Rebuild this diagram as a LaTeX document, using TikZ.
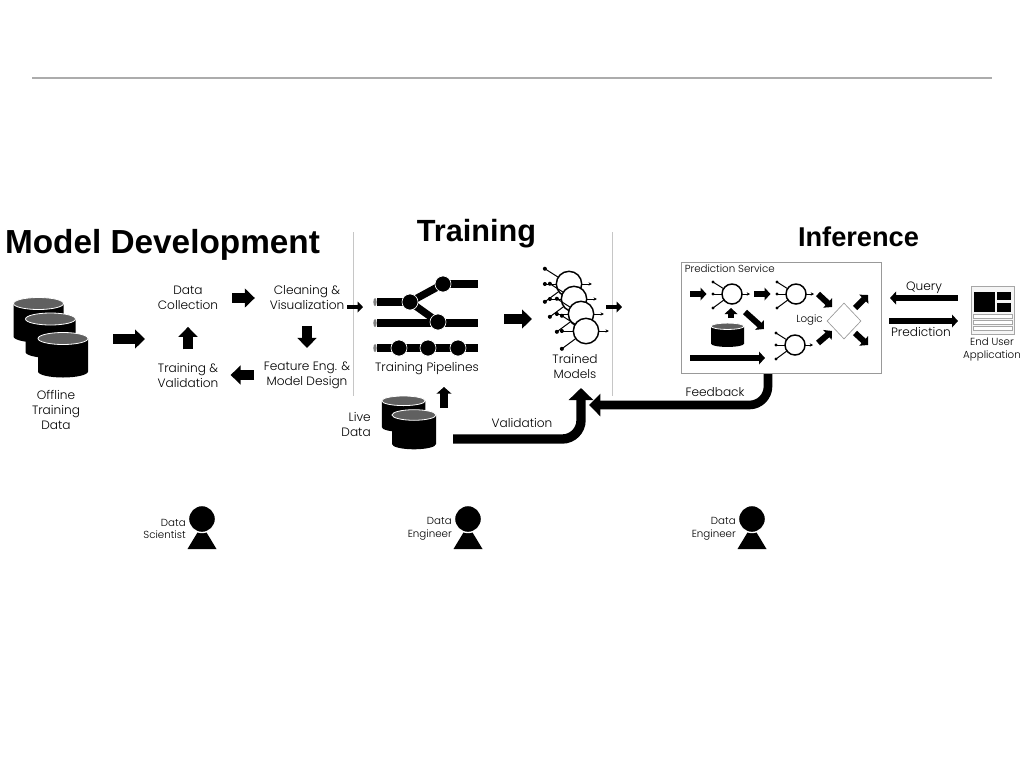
\documentclass[tikz,border=0pt]{standalone}
\usepackage{fontspec}
\usepackage{xcolor}
\setmainfont{Poppins Light}
\newfontfamily\titlefont{Liberation Sans}
\usetikzlibrary{shapes.geometric, arrows.meta, positioning, backgrounds}

\begin{document}
\begin{tikzpicture}[
    x=0.75pt, y=-0.75pt,
    txt/.style={inner sep=0pt, align=center, font=\fontsize{9.1}{11.25}\selectfont},
    smalltxt/.style={inner sep=0pt, align=right, font=\fontsize{7.7}{9.4}\selectfont},
    heading/.style={inner sep=0pt, font=\titlefont\bfseries},
    fatarrow/.style={-{Triangle[length=7.5pt,width=14pt]}, line width=7.5pt},
    midarrow/.style={-{Triangle[length=4.5pt,width=9.5pt]}, line width=4.5pt},
    tinyarrow/.style={-{Triangle[length=4pt,width=8pt]}, line width=3.5pt},
    bigarrow/.style={-{Triangle[length=9pt,width=18pt]}, line width=7pt, rounded corners=14pt},
    divider/.style={gray!45, line width=0.5pt},
    pipeline/.style={line width=5.5pt},
    pipejoint/.style={circle, fill=black, draw=white, line width=0.5pt, minimum size=12pt, inner sep=0pt},
    pipestart/.style={ellipse, fill=gray, minimum width=2.5pt, minimum height=6pt, inner sep=0pt},
    appblock/.style={fill=black},
    approw/.style={draw=gray!70, fill=white, line width=0.5pt},
    pics/dbicon/.style={code={
        \fill[black] (-25,-16.5) -- (-25,16.5) arc[start angle=180, end angle=0, x radius=25, y radius=6]
            -- (25,-16.5) -- cycle;
        \draw[white, fill=gray!75!black, line width=0.6pt] (0,-16.5) ellipse[x radius=25, y radius=6];
    }},
    pics/neuron/.style={code={
        \coordinate (-c) at (0,0);
        \foreach \dy in {-12,0,14} {
            \draw[line width=0.75pt] (0,0) -- (-19,\dy);
            \fill (-19,\dy) circle[radius=1.6];
        }
        \draw[-{Stealth[length=2.5pt,width=2.5pt]}, line width=0.75pt] (0,0) -- (18,0);
        \draw[fill=white, line width=1.1pt] (0,0) circle[radius=10];
    }},
    pics/person/.style={code={
        \fill (0,6) -- (14.5,30) -- (-14.5,30) -- cycle;
        \draw[white, fill=black, line width=1pt] (0,0) circle[radius=13.5];
    }}
]
\useasboundingbox (0,0) rectangle (1024,768);

% Top rule
\coordinate (ruleL) at (32,78);
\coordinate (ruleR) at (992,78);
\draw[gray!65, line width=1.5pt] (ruleL) -- (ruleR);

% Headings
\node[heading, font=\titlefont\bfseries\fontsize{25}{30}\selectfont] (devtitle) at (162.5,245) {Model Development};
\node[heading, font=\titlefont\bfseries\fontsize{23}{28}\selectfont] (traintitle) at (476.5,234) {Training};
\node[heading, font=\titlefont\bfseries\fontsize{20.4}{25}\selectfont] (inftitle) at (858.5,237) {Inference};

% Dividers
\coordinate (div1a) at (353,232);
\coordinate (div1b) at (353,396);
\coordinate (div2a) at (612,232);
\coordinate (div2b) at (612,396);
\draw[divider] (div1a) -- (div1b);
\draw[divider] (div2a) -- (div2b);

% Offline data
\pic at (38.5,320) {dbicon};
\pic at (50.5,335.5) {dbicon};
\pic at (63,355) {dbicon};
\node[txt] (offline) at (56,409.5) {Offline\\Training\\Data};

% Development cycle
\node[txt] (collect) at (188,297.5) {Data\\Collection};
\node[txt] (clean) at (307,297.5) {Cleaning \&\\Visualization};
\node[txt] (feature) at (307,375) {Feature Eng. \&\\Model Design};
\node[txt] (validate) at (188,375) {Training \&\\Validation};

\coordinate (offlineOut) at (113,339);
\coordinate (offlineEnd) at (145,339);
\draw[fatarrow] (offlineOut) -- (offlineEnd);
\draw[fatarrow, shorten <=10.5pt, shorten >=11pt] (collect.east |- 0,298) -- (clean.west |- 0,298);
\draw[fatarrow, shorten <=12pt, shorten >=10pt] (clean) -- (feature);
\draw[fatarrow, shorten <=7pt, shorten >=9pt] (feature.west) -- (validate.east);
\draw[fatarrow, shorten <=10pt, shorten >=13pt] (validate) -- (collect);

\coordinate (toTrainA) at (347,307);
\coordinate (toTrainB) at (363,307);
\draw[tinyarrow] (toTrainA) -- (toTrainB);

% Training pipelines
\node[pipestart] (s1) at (375,302) {};
\node[pipestart] (s2) at (375,323) {};
\node[pipestart] (s3) at (375,348) {};
\node[pipejoint] (p1) at (410,302) {};
\node[pipejoint] (p2) at (443,284) {};
\node[pipejoint] (p3) at (438,322) {};
\node[pipejoint] (p4) at (399,348) {};
\node[pipejoint] (p5) at (428,348) {};
\node[pipejoint] (p6) at (458,348) {};
\coordinate (e1) at (478,284);
\coordinate (e2) at (478,323);
\coordinate (e3) at (478,348);
\begin{scope}[on background layer]
\foreach \from/\to in {p1/p2, p1/p3}
    \draw[pipeline, shorten <=-2pt, shorten >=-2pt] (\from) -- (\to);
\draw[pipeline, shorten >=-2pt] (s1) -- (p1);
\draw[pipeline, shorten <=-2pt] (p2) -- (e1);
\draw[pipeline] (s2) -- (e2);
\draw[pipeline] (s3) -- (e3);
\end{scope}
\node[txt] (pipelines) at (427,368.5) {Training Pipelines};

% Trained models
\pic[scale=1.27] (m1) at (569,284) {neuron};
\pic[scale=1.27] (m2) at (574,299) {neuron};
\pic[scale=1.27] (m3) at (581,314) {neuron};
\pic[scale=1.27] (m4) at (586,331) {neuron};
\node[txt] (models) at (575,366.5) {Trained\\Models};

\coordinate (pipeOut) at (504,319);
\coordinate (modelsIn) at (532,319);
\draw[fatarrow] (pipeOut) -- (modelsIn);
\coordinate (modelsOut) at (606,307);
\coordinate (inferIn) at (622,307);
\draw[tinyarrow] (modelsOut) -- (inferIn);

% Live data
\pic[xscale=0.87, yscale=0.8] at (403.5,414) {dbicon};
\pic[xscale=0.88, yscale=0.88] at (414,429.5) {dbicon};
\node[txt, align=right, anchor=east] (live) at (371,424.5) {Live\\Data};
\coordinate (liveUpA) at (444,408);
\coordinate (liveUpB) at (444,387);
\draw[midarrow, line width=5.5pt, -{Triangle[length=5pt,width=11pt]}] (liveUpA) -- (liveUpB);

\coordinate (valStart) at (453,439);
\coordinate (valEnd) at (581,388);
\draw[bigarrow] (valStart) -| (valEnd);
\node[txt] (validation) at (522,423) {Validation};

% Prediction service
\node[draw=gray!80, line width=0.6pt, minimum width=150pt, minimum height=83.25pt, inner sep=0pt] (service) at (781,317.5) {};
\node[txt, anchor=west, font=\fontsize{7.7}{9.4}\selectfont] (servicelabel) at (684.5,269) {Prediction Service};
\pic (n1) at (732,294) {neuron};
\pic (n2) at (796,294) {neuron};
\pic (n3) at (795,345) {neuron};
\pic[xscale=0.66, yscale=0.53] at (727.5,335) {dbicon};
\node[diamond, draw=gray!80, line width=0.5pt, minimum width=25.5pt, minimum height=27pt, inner sep=0pt] (logic) at (844,321) {};
\node[smalltxt, anchor=east] (logiclabel) at (823,320) {Logic};

\coordinate (a1) at (690,294);
\coordinate (a2) at (706.5,294);
\coordinate (b1) at (754,294);
\coordinate (b2) at (770.5,294);
\coordinate (c1) at (818,294);
\coordinate (c2) at (832,307);
\coordinate (d1) at (745,312);
\coordinate (d2) at (764,329);
\coordinate (f1) at (731,318);
\coordinate (f2) at (731,308);
\coordinate (g1) at (690,358);
\coordinate (g2) at (765,358);
\coordinate (h1) at (818,343);
\coordinate (h2) at (832,331);
\coordinate (i1) at (855,308);
\coordinate (i2) at (868,295);
\coordinate (j1) at (855,333);
\coordinate (j2) at (868,345);
\foreach \from/\to in {a1/a2, b1/b2, c1/c2, d1/d2, f1/f2, g1/g2, h1/h2, i1/i2, j1/j2}
    \draw[midarrow] (\from) -- (\to);

% Feedback
\coordinate (fbStart) at (768,374);
\coordinate (fbEnd) at (589,405);
\draw[bigarrow, line width=6.5pt, -{Triangle[length=8.5pt,width=16.5pt]}] (fbStart) |- (fbEnd);
\node[txt] (feedback) at (715,392) {Feedback};

% End user application
\node[draw=gray!70, fill=gray!8, line width=0.6pt, minimum width=32.25pt, minimum height=36pt, inner sep=0pt] (app) at (992.5,310) {};
\fill[appblock] (974,292) rectangle (995,312);
\fill[appblock] (997,292) rectangle (1011,300);
\fill[appblock] (997,303) rectangle (1011,312);
\draw[approw] (973,314) rectangle (1012,318);
\draw[approw] (973,320) rectangle (1012,324);
\draw[approw] (973,326) rectangle (1012,330);
\node[smalltxt, align=center] (applabel) at (992,349.5) {End User\\Application};

\coordinate (qEnd) at (890,298);
\coordinate (pStart) at (889,321);
\draw[midarrow] (app.west |- qEnd) ++(-13,0) -- (qEnd);
\draw[midarrow] (pStart) -- ++(69,0);
\node[txt] (query) at (924,288) {Query};
\node[txt] (prediction) at (921,332) {Prediction};

% People
\pic at (202,519) {person};
\pic at (468,519) {person};
\pic at (752,519) {person};
\node[smalltxt, anchor=east] (scientist) at (186,529) {Data\\Scientist};
\node[smalltxt, anchor=east] (engineerA) at (452,529) {Data\\Engineer};
\node[smalltxt, anchor=east] (engineerB) at (736,529) {Data\\Engineer};

\end{tikzpicture}
\end{document}
